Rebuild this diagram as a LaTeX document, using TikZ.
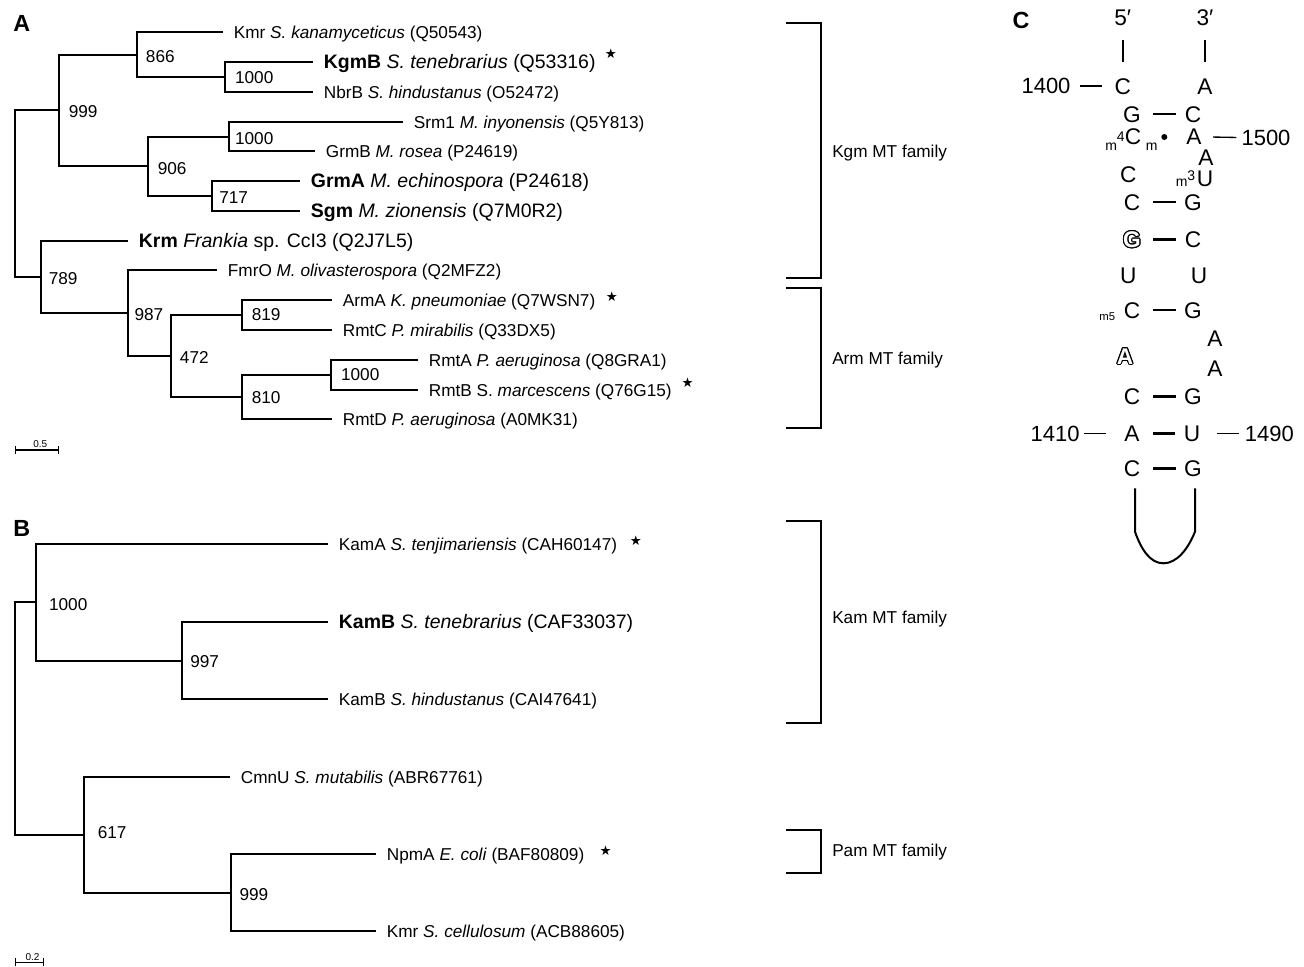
\documentclass[tikz,border=0pt]{standalone}
\usepackage{fontspec}
\setmainfont{Liberation Sans}
\newfontfamily\starfont{DejaVu Sans}
\usepackage{contour}
\contourlength{0.8pt}
\usetikzlibrary{arrows.meta,positioning}

\newcommand{\fsz}[1]{\fontsize{#1}{#1}\selectfont}
\newcommand{\mstar}[2]{\hspace{#1}\raisebox{#2}{\starfont\fsz{10pt}★}}
\newcommand{\hollow}[1]{\contour{black}{\textcolor{white}{\bfseries #1}}}

\tikzset{
  branch/.style={line width=1.5pt},
  leaf/.style={anchor=west, inner xsep=8pt, inner ysep=0pt, text height=9.2pt, text depth=0pt, font=\fsz{12.9pt}},
  boldleaf/.style={leaf, text height=10.4pt, font=\fsz{14.6pt}},
  boot/.style={anchor=west, inner sep=0pt, text height=9.2pt, text depth=0pt, font=\fsz{12.9pt}},
  fam/.style={boot},
  bracket/.style={line width=1pt},
  panel/.style={inner sep=0pt, text height=12.5pt, text depth=0pt, font=\bfseries\fsz{17.5pt}},
  scalebar/.style={line width=0.9pt, {Bar[width=6pt]}-{Bar[width=6pt]}},
  scalelab/.style={inner sep=0pt, font=\fsz{7.5pt}},
  nt/.style={inner sep=0pt, minimum width=16pt, text height=12.2pt, text depth=0pt, font=\fsz{17pt}},
  num/.style={nt, minimum width=0pt, text height=11.8pt, font=\fsz{16.5pt}},
  mods/.style={inner sep=0pt, font=\fsz{10.5pt}},
  bp/.style={line width=2pt, shorten <=7.75pt, shorten >=4.75pt},
  lead/.style={line width=1pt},
  stem/.style={line width=1.8pt, shorten <=11.3pt, shorten >=12pt},
  loopline/.style={line width=1.5pt}
}

\begin{document}
\begin{tikzpicture}[x=0.75pt, y=-0.75pt]
\useasboundingbox (0,0) rectangle (1304,967);

% panel labels
\node[panel] (pA) at (21.7,23.3) {A};
\node[panel] (pB) at (21.7,528.3) {B};
\node[panel] (pC) at (1021,20) {C};

% tree A: leaves
\node[leaf] (lKmr) at (223,32) {Kmr \textit{S. kanamyceticus} (Q50543)};
\node[boldleaf] (lKgmB) at (313,62) {\textbf{KgmB} \textit{S. tenebrarius} (Q53316)\mstar{7pt}{8pt}};
\node[leaf] (lNbrB) at (313,92) {NbrB \textit{S. hindustanus} (O52472)};
\node[leaf] (lSrm) at (403,122) {Srm1 \textit{M. inyonensis} (Q5Y813)};
\node[leaf] (lGrmB) at (315,151) {GrmB \textit{M. rosea} (P24619)};
\node[boldleaf] (lGrmA) at (300,181) {\textbf{GrmA} \textit{M. echinospora} (P24618)};
\node[boldleaf] (lSgm) at (300,211) {\textbf{Sgm} \textit{M. zionensis} (Q7M0R2)};
\node[boldleaf] (lKrm) at (128,241) {\textbf{Krm} \textit{Frankia} sp. CcI3 (Q2J7L5)};
\node[leaf] (lFmrO) at (217,270) {FmrO \textit{M. olivasterospora} (Q2MFZ2)};
\node[leaf] (lArmA) at (332,300) {ArmA \textit{K. pneumoniae} (Q7WSN7)\mstar{8pt}{3.3pt}};
\node[leaf] (lRmtC) at (332,330) {RmtC \textit{P. mirabilis} (Q33DX5)};
\node[leaf] (lRmtA) at (418,360) {RmtA \textit{P. aeruginosa} (Q8GRA1)};
\node[leaf] (lRmtB) at (418,390) {RmtB S. \textit{marcescens} (Q76G15)\mstar{7.5pt}{6.3pt}};
\node[leaf] (lRmtD) at (332,419) {RmtD \textit{P. aeruginosa} (A0MK31)};

% tree A: inner nodes
\coordinate (rootA) at (15,193.7);
\coordinate (n999) at (59,110.4);
\coordinate (n866) at (137,54.5);
\coordinate (n1000a) at (225,77);
\coordinate (n906) at (148,166.3);
\coordinate (n1000b) at (229,136.5);
\coordinate (n717) at (212,196);
\coordinate (n789) at (41,277);
\coordinate (n987) at (128,313);
\coordinate (n472) at (171,356);
\coordinate (n819) at (242,315);
\coordinate (n810) at (242,397);
\coordinate (n1000c) at (331,375);

\draw[branch] (rootA) |- (n999) (rootA) |- (n789)
  (n999) |- (n866) (n999) |- (n906)
  (n866) |- (lKmr) (n866) |- (n1000a)
  (n1000a) |- (lKgmB) (n1000a) |- (lNbrB)
  (n906) |- (n1000b) (n906) |- (n717)
  (n1000b) |- (lSrm) (n1000b) |- (lGrmB)
  (n717) |- (lGrmA) (n717) |- (lSgm)
  (n789) |- (lKrm) (n789) |- (n987)
  (n987) |- (lFmrO) (n987) |- (n472)
  (n472) |- (n819) (n472) |- (n810)
  (n819) |- (lArmA) (n819) |- (lRmtC)
  (n810) |- (n1000c) (n810) |- (lRmtD)
  (n1000c) |- (lRmtA) (n1000c) |- (lRmtB);

% bootstrap values A
\node[boot] (b866) at (145.7,56) {866};
\node[boot] (b1000a) at (234.8,77.7) {1000};
\node[boot] (b999) at (68.5,111.7) {999};
\node[boot] (b1000b) at (234.8,138.3) {1000};
\node[boot] (b906) at (157.6,168.3) {906};
\node[boot] (b717) at (219,197.3) {717};
\node[boot] (b789) at (48.5,278.3) {789};
\node[boot] (b987) at (134.3,314.3) {987};
\node[boot] (b472) at (179.7,357.7) {472};
\node[boot] (b819) at (251.6,314.3) {819};
\node[boot] (b1000c) at (340.8,374.3) {1000};
\node[boot] (b810) at (251.6,397.7) {810};

% scale bar A
\coordinate (sA0) at (15,450);
\coordinate (sA1) at (59.3,450);
\draw[scalebar] (sA0) -- (sA1);
\node[scalelab] (sAlab) at (40.3,444.3) {0.5};

% tree B: leaves
\node[leaf] (lKamA) at (328,544) {KamA \textit{S. tenjimariensis} (CAH60147)\mstar{9.5pt}{3.8pt}};
\node[boldleaf] (lKamB) at (328,622) {\textbf{KamB} \textit{S. tenebrarius} (CAF33037)};
\node[leaf] (lKamBh) at (328,699) {KamB \textit{S. hindustanus} (CAI47641)};
\node[leaf] (lCmnU) at (230,777) {CmnU \textit{S. mutabilis} (ABR67761)};
\node[leaf] (lNpmA) at (376,854) {NpmA \textit{E. coli} (BAF80809)\mstar{11.5pt}{3.8pt}};
\node[leaf] (lKmrS) at (376,931) {Kmr \textit{S. cellulosum} (ACB88605)};

% tree B: inner nodes
\coordinate (rootB) at (15,718.5);
\coordinate (n1000d) at (36,602.3);
\coordinate (n997) at (182,660.5);
\coordinate (n617) at (84,834.8);
\coordinate (n999b) at (231,892.5);

\draw[branch] (rootB) |- (n1000d) (rootB) |- (n617)
  (n1000d) |- (lKamA) (n1000d) |- (n997)
  (n997) |- (lKamB) (n997) |- (lKamBh)
  (n617) |- (lCmnU) (n617) |- (n999b)
  (n999b) |- (lNpmA) (n999b) |- (lKmrS);

% bootstrap values B
\node[boot] (b1000d) at (48.8,604.3) {1000};
\node[boot] (b997) at (190,661.7) {997};
\node[boot] (b617) at (97.6,832.7) {617};
\node[boot] (b999b) at (239.3,894) {999};

% scale bar B
\coordinate (sB0) at (15,962.3);
\coordinate (sB1) at (44,962.3);
\draw[scalebar] (sB0) -- (sB1);
\node[scalelab] (sBlab) at (32.5,956.7) {0.2};

% family brackets
\coordinate (kgmT) at (786,23);   \coordinate (kgmB) at (786,278);
\coordinate (armT) at (786,288);  \coordinate (armB) at (786,428);
\coordinate (kamT) at (786,521);  \coordinate (kamB) at (786,723);
\coordinate (pamT) at (786,830);  \coordinate (pamB) at (786,873);
\draw[bracket] (kgmT) -- ++(35,0) |- (kgmB);
\draw[bracket] (armT) -- ++(35,0) |- (armB);
\draw[bracket] (kamT) -- ++(35,0) |- (kamB);
\draw[bracket] (pamT) -- ++(35,0) |- (pamB);
\node[fam] (fKgm) at (832,151.7) {Kgm MT family};
\node[fam] (fArm) at (832,358.3) {Arm MT family};
\node[fam] (fKam) at (832,617.3) {Kam MT family};
\node[fam] (fPam) at (832,850.7) {Pam MT family};

% panel C: helix 44
\node[nt] (p5) at (1122.7,17) {5′};
\node[nt] (p3) at (1205,17) {3′};
\node[nt] (c1L) at (1122.7,86) {C};    \node[nt] (c1R) at (1205,86) {A};
\node[nt] (c2L) at (1132,114) {G};     \node[nt] (c2R) at (1193,114) {C};
\node[nt] (c3L) at (1133,136.7) {C};   \node[nt] (c3R) at (1194,136.7) {A};
\node[nt] (c4R) at (1206,157.5) {A};
\node[nt] (c5L) at (1128.3,174) {C};   \node[nt] (c5R) at (1205,178.3) {U};
\node[nt] (c6L) at (1132,202) {C};     \node[nt] (c6R) at (1193,202) {G};
\node[nt] (c7L) at (1132,239.3) {\hollow{G}};
\node[nt] (c7R) at (1193,239.3) {C};
\node[nt] (c8L) at (1128.3,275) {U};   \node[nt] (c8R) at (1199,275) {U};
\node[nt] (c9L) at (1132,310) {C};     \node[nt] (c9R) at (1193,310) {G};
\node[nt] (c10R) at (1215,338.3) {A};
\node[nt] (c11L) at (1125,356) {\hollow{A}};
\node[nt] (c11R) at (1215,368.3) {A};
\node[nt] (c12L) at (1132,396.7) {C};  \node[nt] (c12R) at (1193,396.7) {G};
\node[nt] (c13L) at (1132,433.3) {A};  \node[nt] (c13R) at (1192,433.3) {U};
\node[nt] (c14L) at (1132,468.3) {C};  \node[nt] (c14R) at (1193,468.3) {G};

% modifications
\node[mods, anchor=base east] (m3pre) at (1125,150.7) {m\raisebox{6.75pt}{4}};
\node[mods, anchor=base west] (m3suf) at (1145.5,150.7) {m};
\node[mods, anchor=base east] (m5pre) at (1195.5,186.3) {m\raisebox{4pt}{3}};
\node[mods, anchor=base east, font=\fsz{8.5pt}] (m9pre) at (1115.5,320.7) {m5};
\node[circle, fill, inner sep=0pt, minimum size=4.5pt] (c3dot) at (1164.3,137) {};

% numbering
\node[num] (n1400) at (1046,86) {1400};
\node[num] (n1500) at (1266,138) {1500};
\node[num] (n1410) at (1055.2,433.3) {1410};
\node[num] (n1490) at (1269.3,433.3) {1490};
\draw[lead, shorten <=6.75pt, shorten >=7.7pt] (n1400) -- (c1L);
\draw[lead, shorten <=6.2pt, shorten >=3.6pt] (c3R) -- (n1500);
\draw[lead, shorten <=3pt, shorten >=11pt] (n1410) -- (c13L);
\draw[lead, shorten <=10.8pt, shorten >=4.5pt] (c13R) -- (n1490);

% strands and pairs
\draw[stem] (p5) -- (c1L);
\draw[stem] (p3) -- (c1R);
\draw[bp] (c2L) -- (c2R);
\draw[bp] (c6L) -- (c6R);
\draw[bp] (c7L) -- (c7R);
\draw[bp] (c9L) -- (c9R);
\draw[bp] (c12L) -- (c12R);
\draw[bp] (c13L) -- (c13R);
\draw[bp] (c14L) -- (c14R);

% loop
\coordinate (loopL) at (1135,488.3);
\coordinate (loopR) at (1195,488.3);
\coordinate (loopBot) at (1163.3,563.3);
\draw[loopline] (loopL) -- (1135,531.7) .. controls (1141,549) and (1150,563.3) .. (loopBot)
  .. controls (1177,563.3) and (1188,549) .. (1195,531.7) -- (loopR);
\end{tikzpicture}
\end{document}
